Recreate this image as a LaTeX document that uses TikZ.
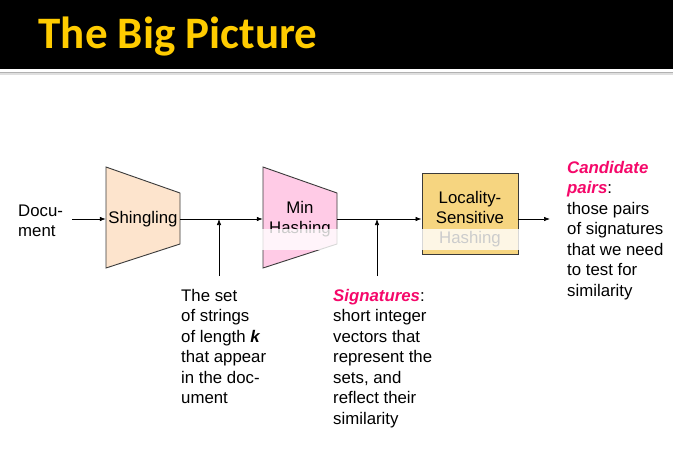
\documentclass[tikz,border=0pt]{standalone}
\usepackage{fontspec}
\setmainfont{Liberation Sans}
\newfontfamily\titlefont{Carlito}
\usetikzlibrary{arrows.meta}
\definecolor{titleyellow}{HTML}{FFCC00}
\definecolor{peach}{HTML}{FDE4CD}
\definecolor{pinkfill}{HTML}{FFCBE6}
\definecolor{goldfill}{HTML}{F6D580}
\definecolor{hot}{HTML}{F5086A}
\definecolor{edge}{HTML}{3A3A3A}
\begin{document}
\begin{tikzpicture}[x=1pt,y=-1pt,
  body/.style={font=\fontsize{16.8}{20.5}\selectfont, inner sep=0pt, align=left, anchor=north west},
  lbl/.style={font=\fontsize{16.8}{20.3}\selectfont, inner sep=0pt, align=center},
  flow/.style={-{Latex[length=6pt,width=4.5pt]}, line width=0.7pt},
  shapeline/.style={draw=edge, line width=0.9pt},
  hotword/.style={text=hot}]
\useasboundingbox (0,0) rectangle (673,461);
\fill[white] (0,0) rectangle (673,461);
\fill[black] (0,0) rectangle (673,69);
\fill[gray!60] (0,71.5) rectangle (673,73);
\fill[gray!25] (0,73) rectangle (673,74.5);
\node[anchor=base west, inner sep=0pt, text=titleyellow,
  font=\titlefont\bfseries\fontsize{45}{45}\selectfont] (title) at (38.5,48) {The Big Picture};

% shingling
\filldraw[shapeline, fill=peach] (106,167) -- (180,193) -- (180,244) -- (106,268) -- cycle;
\node[lbl, minimum width=74pt, minimum height=51pt] (shing) at (143,219) {Shingling};
% min hashing
\filldraw[shapeline, fill=pinkfill] (263,167) -- (337,193) -- (337,244) -- (263,268) -- cycle;
\node[lbl, minimum width=74pt, minimum height=51pt] (minh) at (300,219) {Min\\Hashing};
% LSH
\node[shapeline, fill=goldfill, minimum width=96pt, minimum height=81pt, inner sep=0pt] (lsh) at (470,213.5) {};
\node[lbl] (lshtext) at (470,219) {Locality-\\Sensitive\\Hashing};

% faded band
\fill[white, opacity=0.8] (240,229) rectangle (528,250);

% left label
\node[body, anchor=west] (doc) at (18,221) {Docu-\\ment};

% connectors
\draw[flow] ([xshift=9pt]doc.east |- shing.west) -- (shing.west);
\draw[flow] (shing.east) -- (minh.west);
\draw[flow] (minh.east) -- (lsh.west |- minh.east);
\coordinate (outend) at (550,219);
\draw[flow] (lsh.east |- outend) -- (outend);
\coordinate (up1) at (219,276);
\coordinate (up2) at (377,276);
\draw[flow] (up1) -- (up1 |- shing.east);
\draw[flow] (up2) -- (up2 |- minh.east);

% text blocks
\node[body] (shingdesc) at (181,289) {The set\\of strings\\of length \textbf{\textit{k}}\\that appear\\in the doc-\\ument};
\node[body] (sigdesc) at (333,289) {\textbf{\textit{\textcolor{hot}{Signatures}}}:\\short integer\\vectors that\\represent the\\sets, and\\reflect their\\similarity};
\node[body] (cand) at (567,161) {\textbf{\textit{\textcolor{hot}{Candidate}}}\\\textbf{\textit{\textcolor{hot}{pairs}}}:\\those pairs\\of signatures\\that we need\\to test for\\similarity};
\end{tikzpicture}
\end{document}
